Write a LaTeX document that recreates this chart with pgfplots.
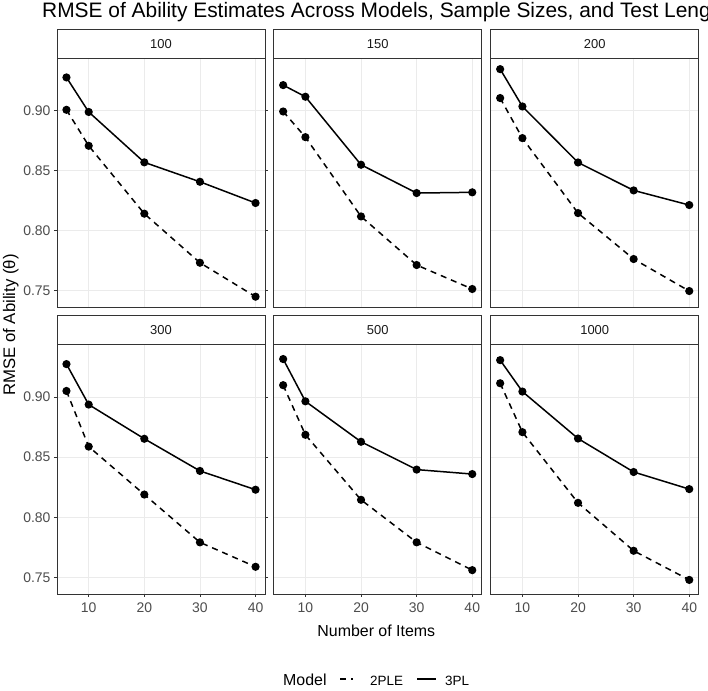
\documentclass[border=0pt]{standalone}
\usepackage{fontspec}
\setmainfont{Liberation Sans}
\usepackage{pgfplots}
\pgfplotsset{compat=1.18}
\usepackage{pgfplotstable}
\usetikzlibrary{calc}

\definecolor{gridc}{HTML}{EBEBEB}
\definecolor{framec}{HTML}{333333}
\definecolor{tickc}{HTML}{4D4D4D}
\definecolor{stripc}{HTML}{1A1A1A}

% RMSE of ability by number of items; one table per sample size
\pgfplotstableread{
items ple pl3
6  0.9008 0.9278
10 0.8708 0.8990
20 0.8142 0.8570
30 0.7733 0.8408
40 0.7450 0.8231
}\tabA
\pgfplotstableread{
items ple pl3
6  0.8994 0.9214
10 0.8780 0.9117
20 0.8119 0.8550
30 0.7714 0.8314
40 0.7514 0.8320
}\tabB
\pgfplotstableread{
items ple pl3
6  0.9106 0.9347
10 0.8772 0.9036
20 0.8147 0.8569
30 0.7764 0.8336
40 0.7497 0.8214
}\tabC
\pgfplotstableread{
items ple pl3
6  0.9050 0.9273
10 0.8588 0.8937
20 0.8190 0.8653
30 0.7793 0.8386
40 0.7590 0.8230
}\tabD
\pgfplotstableread{
items ple pl3
6  0.9098 0.9315
10 0.8686 0.8964
20 0.8146 0.8628
30 0.7793 0.8397
40 0.7562 0.8360
}\tabE
\pgfplotstableread{
items ple pl3
6  0.9114 0.9306
10 0.8708 0.9045
20 0.8121 0.8655
30 0.7723 0.8377
40 0.7481 0.8235
}\tabF

\pgfplotsset{
  facet/.style={
    scale only axis, width=208bp,
    anchor=south west,
    xmin=4.3, xmax=41.7, ymin=0.7364, ymax=0.944,
    axis line style={framec, line width=0.9bp},
    grid=major, major grid style={gridc, line width=0.8bp},
    xtick={10,20,30,40}, ytick={0.75,0.80,0.85,0.90},
    tick align=outside, major tick length=3bp,
    tick style={framec, line width=0.7bp},
    /pgf/number format/assume math mode=true,
    yticklabel style={/pgf/number format/fixed, /pgf/number format/fixed zerofill,
      /pgf/number format/precision=2},
    ticklabel style={font=\fontsize{14}{16}\selectfont, text=tickc},
    xticklabel style={yshift=-2bp},
  },
  nox/.style={xticklabels={}, xtick style={draw=none}},
  noy/.style={yticklabels={}, ytick style={draw=none}},
  ple/.style={black, line width=1.5bp, dash pattern=on 6bp off 5bp,
    mark=*, mark size=3.3bp, mark options={solid}},
  pl3/.style={black, line width=1.5bp, mark=*, mark size=3.3bp},
}

\newcommand\facet[5]{%
  \begin{axis}[facet, at={(#1bp,#2bp)}, height=#3bp, #5]
    \addplot[ple] table[x=items, y=ple]{#4};
    \addplot[pl3] table[x=items, y=pl3]{#4};
  \end{axis}}

\newcommand\strip[3]{%
  \draw[framec, line width=0.9bp, fill=white] (#1bp,#2bp) rectangle ++(208bp,28.5bp);
  \node[text=stripc, font=\fontsize{13}{15}\selectfont] at ($(#1bp,#2bp)+(104bp,14.2bp)$) {#3};}

\begin{document}
\begin{tikzpicture}
  \useasboundingbox (0,0) rectangle (708bp,691bp);
  \clip (0,0) rectangle (708bp,691bp);
  \fill[white] (0,0) rectangle (708bp,691bp);

  \facet{57}{384}{249}{\tabA}{nox}
  \facet{273.7}{384}{249}{\tabB}{nox,noy}
  \facet{490.7}{384}{249}{\tabC}{nox,noy}
  \facet{57}{97}{250}{\tabD}{}
  \facet{273.7}{97}{250}{\tabE}{noy}
  \facet{490.7}{97}{250}{\tabF}{noy}

  \strip{57}{633}{100}
  \strip{273.7}{633}{150}
  \strip{490.7}{633}{200}
  \strip{57}{347}{300}
  \strip{273.7}{347}{500}
  \strip{490.7}{347}{1000}

  % titles
  \node[anchor=base west, inner sep=0pt, font=\fontsize{21}{24}\selectfont] at (42bp,673bp)
    {RMSE of Ability Estimates Across Models, Sample Sizes, and Test Length};
  \node[anchor=base, font=\fontsize{16}{18}\selectfont] at (376.3bp,54bp) {Number of Items};
  \node[anchor=base, rotate=90, font=\fontsize{16.8}{18}\selectfont] at (15bp,366bp)
    {RMSE of Ability (θ)};

  % legend
  \node[anchor=base west, inner sep=0pt, font=\fontsize{16}{18}\selectfont] at (283bp,6bp) {Model};
  \draw[black, line width=1.5bp, dash pattern=on 6bp off 5bp on 2bp off 10bp] (340bp,12bp) -- (361bp,12bp);
  \node[anchor=base west, inner sep=0pt, font=\fontsize{13.5}{15}\selectfont] at (370bp,6bp) {2PLE};
  \draw[black, line width=1.5bp] (417bp,12bp) -- (436bp,12bp);
  \node[anchor=base west, inner sep=0pt, font=\fontsize{13.5}{15}\selectfont] at (445bp,6bp) {3PL};
\end{tikzpicture}
\end{document}
